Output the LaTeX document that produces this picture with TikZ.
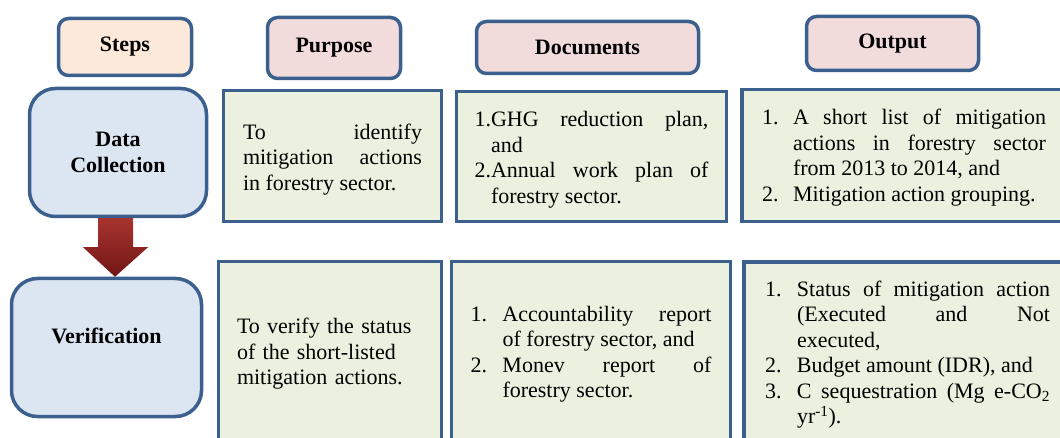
\documentclass[tikz,border=0pt]{standalone}
\usepackage{fontspec}
\setmainfont{Liberation Serif}
\definecolor{edgeblue}{RGB}{60,96,142}
\definecolor{headpeach}{RGB}{252,233,217}
\definecolor{headpink}{RGB}{242,220,219}
\definecolor{stepblue}{RGB}{220,230,242}
\definecolor{infogreen}{RGB}{235,241,222}
\definecolor{arrowtop}{RGB}{168,52,46}
\definecolor{arrowbot}{RGB}{112,22,22}
\tolerance=10000
\hbadness=10000
\newlength{\numind}
\newcommand{\numitem}[2]{\noindent\hangindent=\numind\hangafter=1\makebox[\numind][l]{#1}#2\par}

\begin{document}
\begin{tikzpicture}[x=1pt,y=-1pt,
    box/.style={draw=edgeblue,line width=3.5pt,inner sep=0pt},
    headbox/.style={box,rounded corners=10pt,fill=headpink,
      font=\bfseries\fontsize{22}{26}\selectfont},
    stepbox/.style={box,rounded corners=26pt,fill=stepblue,align=center,
      font=\bfseries\fontsize{22}{26}\selectfont},
    infobox/.style={box,fill=infogreen,align=justify,
      font=\fontsize{22}{25.5}\selectfont}]
    \useasboundingbox (0,0) rectangle (1060,438);
    \clip (0,0) rectangle (1060,438);

    \node[headbox,fill=headpeach,minimum width=133pt,minimum height=57pt] (steps) at (125,47) {Steps};
    \node[headbox,minimum width=133pt,minimum height=61pt] (purpose) at (334,48) {Purpose};
    \node[headbox,minimum width=222pt,minimum height=52pt] (documents) at (587.5,47.5) {Documents};
    \node[headbox,minimum width=172pt,minimum height=54pt] (output) at (892.5,43.5) {Output};

    \node[stepbox,minimum width=177pt,minimum height=128pt] (dc) at (118,152.5) {Data\\Collection};
    \node[stepbox,minimum width=190pt,minimum height=138pt,text depth=24pt] (ver) at (106.5,347.5) {Verification};

    \node[infobox,minimum width=218pt,minimum height=131pt,text width=179pt] (pur1) at (332.5,156)
      {\rule{0pt}{22pt}To identify\linebreak mitigation actions\linebreak in forestry sector.};
    \node[infobox,minimum width=270pt,minimum height=130pt,text width=234pt] (doc1) at (591.5,156.5)
      {\setlength{\numind}{16.5pt}%
       \numitem{1.}{\rule{0pt}{22pt}GHG reduction plan,\linebreak and}
       \numitem{2.}{Annual work plan of\linebreak forestry sector.}};
    \node[infobox,minimum width=360pt,minimum height=132pt,text width=320pt] (out1) at (922,155.5)
      {\setlength{\numind}{31pt}\setlength{\rightskip}{36pt}%
       \numitem{1.}{\rule{0pt}{19.5pt}A short list of mitigation\linebreak actions in forestry sector\linebreak from 2013 to 2014, and}
       \numitem{2.}{Mitigation action grouping.}};

    \node[infobox,align=left,minimum width=223pt,minimum height=185pt,text width=186pt] (pur2) at (330,354)
      {To verify the status\\of the short-listed\\mitigation actions.};
    \node[infobox,minimum width=279pt,minimum height=185pt,text width=241pt] (doc2) at (591,354)
      {\setlength{\numind}{32pt}%
       \numitem{1.}{Accountability report\linebreak of forestry sector, and}
       \numitem{2.}{Monev report of\linebreak forestry sector.}};
    \node[infobox,minimum width=360pt,minimum height=185pt,text width=318pt] (out2) at (924,354.5)
      {\setlength{\numind}{32pt}\setlength{\rightskip}{33pt}%
       \numitem{1.}{Status of mitigation action\linebreak (Executed and Not\linebreak executed,}
       \numitem{2.}{Budget amount (IDR), and}
       \numitem{3.}{C sequestration (Mg e-CO\textsubscript{2}\linebreak yr\textsuperscript{-1}).}};

    \shade[top color=arrowtop,bottom color=arrowbot]
      ([xshift=-20pt]dc.south) -- ([xshift=15pt]dc.south) --
      ([xshift=15pt,yshift=-29pt]dc.south) -- ([xshift=30pt,yshift=-29pt]dc.south) --
      ([xshift=8.5pt]ver.north) --
      ([xshift=-35pt,yshift=-29pt]dc.south) -- ([xshift=-20pt,yshift=-29pt]dc.south) -- cycle;
\end{tikzpicture}
\end{document}
